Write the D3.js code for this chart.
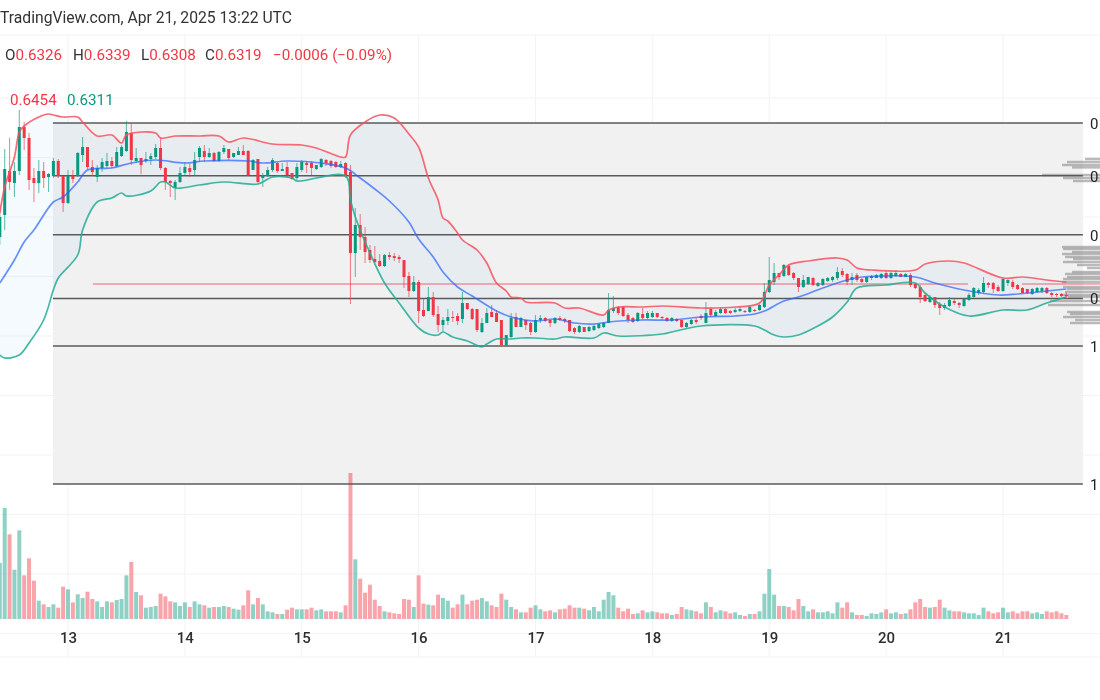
<!DOCTYPE html>
<html>
<head>
<meta charset="utf-8">
<script src="https://cdn.jsdelivr.net/npm/d3@7"></script>
<style>
  html, body { margin: 0; padding: 0; background: #fff; overflow: hidden; }
  svg { display: block; filter: blur(0.6px); }
  text { font-family: Roboto, sans-serif; }
</style>
</head>
<body>
<svg id="chart" width="1100" height="700"></svg>
<script>
// hourly candles, hours counted from Apr 13 00:00, prices in 1/10000
const firstHour = -14;

const opens = [
  6615,6725,6945,6885,6945,7165,7110,6910,6885,6945,
  6915,6920,6995,6920,6785,6920,6920,7025,7065,6965,
  6915,6960,6970,6995,6970,7020,7045,7135,6995,7010,
  6995,7005,7015,7060,6960,6895,6860,6890,6935,6960,
  6950,7015,7045,7015,7035,6995,7040,7055,7015,7025,
  7045,7045,6950,7005,6910,6920,6950,6985,6945,6965,
  6935,6910,6950,6985,6985,6955,6965,7000,6995,6990,
  6965,6985,6940,6535,6675,6615,6550,6505,6495,6470,
  6525,6520,6515,6500,6420,6345,6390,6250,6245,6315,
  6230,6175,6195,6215,6220,6205,6285,6255,6255,6140,
  6185,6240,6235,6200,6075,6115,6215,6165,6200,6185,
  6140,6200,6210,6200,6185,6210,6205,6200,6160,6140,
  6165,6145,6150,6160,6165,6185,6245,6265,6265,6225,
  6210,6195,6230,6210,6215,6235,6215,6210,6195,6205,
  6200,6165,6180,6200,6220,6185,6255,6220,6235,6255,
  6245,6240,6245,6245,6240,6250,6250,6265,6340,6390,
  6435,6420,6470,6435,6410,6365,6380,6410,6370,6375,
  6395,6400,6410,6445,6430,6400,6425,6405,6390,6410,
  6410,6410,6435,6410,6420,6430,6415,6425,6380,6365,
  6325,6290,6315,6280,6260,6270,6295,6285,6270,6300,
  6315,6335,6340,6385,6385,6365,6345,6385,6390,6375,
  6360,6355,6330,6340,6345,6360,6335,6330,6330,6326
];
const highs = [
  6775,7055,7110,6990,7250,7190,7135,6960,7000,6990,
  6935,7010,7005,6920,6950,6950,7040,7115,7065,7000,
  6975,7010,7035,7015,7065,7075,7195,7180,7060,7010,
  7040,7035,7080,7115,6965,6900,6900,6965,6990,6980,
  7040,7070,7075,7060,7040,7045,7075,7055,7035,7065,
  7075,7050,7005,7005,6935,6965,7010,6990,6985,6990,
  6935,6985,7000,6995,6995,6975,7010,7005,7000,6995,
  6995,6990,6975,6760,6730,6665,6575,6570,6530,6530,
  6540,6535,6525,6500,6440,6420,6400,6310,6365,6340,
  6270,6215,6255,6245,6235,6340,6285,6260,6255,6210,
  6260,6275,6250,6200,6125,6235,6235,6215,6200,6190,
  6225,6225,6215,6200,6215,6220,6210,6200,6165,6175,
  6165,6170,6180,6185,6190,6335,6320,6270,6270,6235,
  6215,6240,6260,6245,6245,6235,6220,6215,6215,6210,
  6200,6190,6205,6210,6230,6290,6265,6250,6265,6260,
  6250,6260,6265,6250,6275,6255,6280,6385,6515,6485,
  6435,6480,6480,6440,6410,6425,6415,6415,6390,6410,
  6415,6420,6465,6460,6435,6435,6435,6410,6415,6425,
  6430,6435,6445,6440,6450,6435,6435,6435,6385,6375,
  6335,6325,6315,6290,6285,6315,6305,6290,6310,6335,
  6365,6360,6415,6390,6390,6375,6415,6405,6400,6380,
  6365,6355,6360,6365,6365,6365,6340,6335,6335,6339
];
const lows = [
  6575,6650,6850,6815,6925,7050,6850,6790,6835,6860,
  6840,6910,6910,6740,6780,6885,6915,6990,6950,6920,
  6890,6940,6960,6960,6965,7015,7040,6975,6985,6930,
  6985,6975,7005,6950,6850,6815,6800,6885,6925,6915,
  6925,6990,6990,7010,6990,6990,7030,7000,7010,7025,
  7025,6920,6950,6885,6865,6915,6940,6935,6945,6910,
  6900,6900,6940,6935,6925,6950,6960,6970,6960,6960,
  6960,6910,6280,6415,6550,6485,6485,6485,6465,6465,
  6500,6495,6485,6360,6315,6340,6185,6215,6245,6215,
  6140,6140,6175,6190,6175,6185,6250,6200,6140,6135,
  6185,6215,6190,6070,6070,6110,6165,6165,6150,6125,
  6135,6185,6190,6165,6180,6195,6185,6140,6130,6135,
  6140,6140,6145,6155,6160,6185,6235,6225,6215,6185,
  6185,6190,6200,6205,6210,6210,6200,6190,6190,6190,
  6160,6160,6175,6180,6200,6185,6215,6215,6230,6230,
  6230,6235,6240,6235,6235,6240,6245,6260,6335,6375,
  6400,6415,6420,6400,6340,6360,6375,6370,6365,6370,
  6390,6390,6400,6415,6375,6375,6390,6385,6385,6400,
  6410,6405,6405,6405,6415,6415,6415,6365,6355,6285,
  6290,6285,6260,6225,6250,6265,6275,6260,6265,6295,
  6310,6325,6335,6360,6335,6340,6340,6370,6355,6350,
  6335,6330,6325,6335,6335,6330,6315,6315,6315,6308
];
const closes = [
  6715,6955,6890,6945,7165,7110,6900,6885,6945,6910,
  6930,6995,6920,6785,6920,6905,7035,7065,6965,6940,
  6960,6990,6995,6970,7040,7065,7140,7000,7010,6975,
  7005,7020,7060,6960,6890,6885,6890,6935,6965,6940,
  7000,7060,7015,7035,6995,7040,7060,7010,7035,7045,
  7025,6925,7000,6890,6925,6950,7000,6945,6955,6925,
  6905,6965,6990,6975,6960,6975,7005,6985,6970,6965,
  6980,6925,6535,6675,6615,6540,6500,6490,6470,6525,
  6515,6510,6505,6415,6345,6390,6245,6220,6315,6225,
  6175,6200,6215,6210,6195,6285,6255,6205,6150,6185,
  6235,6215,6190,6075,6125,6210,6165,6210,6175,6140,
  6200,6210,6195,6185,6210,6200,6195,6145,6140,6170,
  6140,6165,6170,6180,6185,6250,6260,6235,6220,6200,
  6190,6235,6210,6235,6235,6215,6210,6195,6210,6195,
  6165,6185,6200,6190,6210,6235,6225,6240,6255,6235,
  6235,6250,6255,6240,6265,6245,6275,6340,6400,6435,
  6415,6475,6425,6410,6365,6400,6415,6375,6385,6405,
  6410,6415,6440,6425,6390,6415,6400,6390,6415,6420,
  6425,6430,6410,6435,6435,6415,6430,6375,6360,6315,
  6295,6315,6275,6260,6275,6300,6285,6275,6305,6325,
  6360,6350,6385,6375,6355,6345,6405,6400,6365,6355,
  6335,6335,6355,6360,6360,6335,6325,6325,6320,6319
];
const volumes = [
  168,333,254,148,266,131,182,115,55,44,
  36,44,34,97,89,50,74,63,82,60,
  53,36,53,50,57,60,131,171,81,71,
  34,36,39,76,68,53,50,39,50,36,
  53,44,41,34,36,36,39,36,31,28,
  41,86,44,63,44,23,20,15,15,28,
  34,29,29,29,34,26,29,23,23,23,
  20,41,438,179,121,79,103,58,39,23,
  20,17,15,60,58,36,131,46,43,41,
  73,63,55,34,44,73,44,55,58,63,
  53,41,36,76,58,36,29,20,20,34,
  41,29,23,26,20,29,31,41,34,34,
  31,26,36,23,58,81,71,34,23,31,
  15,17,26,20,23,20,17,17,12,15,
  36,29,26,23,17,50,36,20,26,23,
  17,20,12,9,15,15,23,76,150,73,
  39,39,36,26,60,39,23,29,20,20,
  23,17,50,34,50,20,12,12,9,17,
  15,20,29,17,20,15,17,29,50,60,
  36,34,36,58,34,26,23,23,20,17,
  17,12,34,23,17,20,34,20,23,17,
  23,23,17,20,15,23,20,23,17,12
];

// bollinger bands, [hour, price]
const upperBand = [[-14,6735],[-13,6865],[-11,7015],[-10,7140],[-9,7170],[-6,7215],[-4,7230],[-3,7225],[-1,7215],[2,7215],[3,7190],[6,7120],[9,7125],[11,7085],[12,7125],[18,7135],[19,7110],[22,7120],[27,7120],[31,7120],[33,7090],[36,7110],[42,7080],[48,7075],[51,7060],[56,7015],[57,7015],[58,7125],[61,7190],[64,7225],[67,7210],[70,7130],[72,7065],[74,6910],[76,6800],[77,6710],[78,6695],[80,6635],[81,6600],[84,6550],[86,6485],[88,6385],[90,6345],[91,6315],[93,6310],[94,6290],[100,6285],[102,6260],[105,6260],[110,6225],[111,6250],[113,6265],[118,6265],[122,6270],[130,6260],[137,6265],[142,6285],[144,6375],[146,6425],[148,6475],[152,6495],[158,6510],[160,6500],[162,6460],[165,6450],[174,6450],[176,6480],[181,6495],[184,6485],[192,6410],[196,6415],[201,6400],[205,6390]];
const basisBand = [[-14,6385],[-11,6500],[-9,6590],[-7,6650],[-3,6790],[-1,6815],[2,6890],[4,6950],[9,6960],[13,6985],[18,7000],[24,6985],[28,6995],[37,6995],[40,6985],[45,6995],[52,6985],[57,6960],[60,6910],[63,6855],[66,6795],[70,6690],[72,6605],[75,6515],[77,6440],[80,6365],[83,6320],[88,6245],[91,6215],[96,6195],[100,6205],[104,6185],[108,6180],[111,6190],[118,6200],[124,6200],[130,6215],[137,6220],[141,6230],[143,6245],[147,6295],[150,6315],[155,6360],[160,6400],[163,6415],[174,6415],[178,6385],[184,6350],[191,6325],[195,6330],[201,6345],[205,6355]];
const lowerBand = [[-14,6025],[-13,6010],[-10,6025],[-8,6085],[-5,6200],[-3,6350],[-2,6410],[2,6525],[3,6650],[6,6790],[9,6810],[11,6835],[12,6820],[17,6845],[19,6890],[20,6890],[22,6860],[27,6875],[32,6890],[39,6880],[42,6915],[46,6910],[47,6895],[57,6920],[58,6800],[59,6715],[62,6535],[65,6385],[68,6285],[72,6160],[74,6130],[76,6125],[77,6140],[79,6115],[82,6095],[85,6065],[86,6080],[88,6105],[91,6105],[93,6110],[96,6110],[100,6105],[102,6115],[108,6110],[110,6135],[113,6120],[122,6130],[124,6140],[130,6170],[141,6170],[143,6150],[145,6125],[147,6115],[150,6125],[154,6170],[157,6215],[160,6290],[162,6360],[168,6375],[174,6385],[176,6335],[180,6265],[185,6220],[192,6250],[197,6250],[201,6285],[205,6315]];

// fib levels, labels as far as the reference shows them
const fibLevels = [7185, 6921, 6626, 6308, 6070, 5380];
const fibLabels = ["0", "0", "0", "0", "1", "1"];
const fibSpan = [-3.1, 208.4];

// volume profile rows, [price, size]
const profileRows = [[7005,15],[6990,33],[6975,38],[6963,28],[6925,58],[6910,37],[6895,27],[6565,38],[6555,37],[6540,28],[6530,38],[6515,35],[6505,27],[6490,37],[6475,23],[6460,13],[6440,28],[6430,35],[6415,33],[6405,37],[6390,38],[6365,37],[6355,33],[6340,35],[6325,40],[6315,32],[6295,50],[6275,52],[6240,33],[6230,30],[6215,37],[6200,25],[6185,30]];

// pink point of control lines, [from hour, to hour, price]
const pocLines = [[5.1, 184.8, 6380], [195.9, 212, 6380]];

const gridPrices = [7310, 7012, 6715, 6418, 6120, 5822, 5525, 5228, 4930, 4632];
const dayTicks = [0, 24, 48, 72, 96, 120, 144, 168, 192];
const dayLabels = ["13", "14", "15", "16", "17", "18", "19", "20", "21"];

const upColor = "#089981", downColor = "#f23645";

const svg = d3.select("#chart");

// scales
const x = d3.scaleLinear().domain([0, 192]).range([68, 1003]);
const y = d3.scaleLinear().domain([7800, 4000]).range([0, 760]);
const vol = d3.scaleLinear().domain([0, 438]).range([619, 473]);
const prof = d3.scaleLinear().domain([0, 100]).range([1100, 1000]);

const candles = opens.map((o, i) => ({
  hour: firstHour + i, open: o, high: highs[i], low: lows[i], close: closes[i],
  volume: volumes[i], color: closes[i] >= o ? upColor : downColor
}));

// grid
const grid = svg.append("g").attr("stroke", "#f3f3f3").attr("stroke-width", 1);
grid.selectAll(".h").data(gridPrices).join("line")
  .attr("x1", 0).attr("x2", 1100)
  .attr("y1", d => y(d)).attr("y2", d => y(d));
grid.selectAll(".v").data(dayTicks).join("line")
  .attr("x1", d => x(d)).attr("x2", d => x(d))
  .attr("y1", 35).attr("y2", 657);
grid.append("line").attr("x1", 0).attr("x2", 1100).attr("y1", 35).attr("y2", 35);
grid.append("line").attr("x1", 0).attr("x2", 1100).attr("y1", 657).attr("y2", 657);

// fib background
svg.append("rect")
  .attr("x", x(fibSpan[0]))
  .attr("y", y(fibLevels[0]))
  .attr("width", x(fibSpan[1]) - x(fibSpan[0]))
  .attr("height", y(fibLevels[5]) - y(fibLevels[0]))
  .attr("fill", "#f1f1f1");

// volume
svg.append("g").selectAll("rect").data(candles).join("rect")
  .attr("x", d => x(d.hour) - 2)
  .attr("y", d => vol(d.volume))
  .attr("width", 4)
  .attr("height", d => vol(0) - vol(d.volume))
  .attr("fill", d => d.color)
  .attr("opacity", 0.45);

// band fill
const bandPath = d3.line().x(d => x(d[0])).y(d => y(d[1])).curve(d3.curveCatmullRom.alpha(0.5));
const bandFill = bandPath(upperBand) + "L" + bandPath(lowerBand.slice().reverse()).slice(1) + "Z";
svg.append("path")
  .attr("d", bandFill)
  .attr("fill", "#2196f3")
  .attr("opacity", 0.05);

// volume profile
svg.append("g").selectAll("rect").data(profileRows).join("rect")
  .attr("x", d => prof(d[1]))
  .attr("y", d => y(d[0]) - 1.25)
  .attr("width", d => 1100 - prof(d[1]))
  .attr("height", 2.5)
  .attr("fill", "#8c8c8c")
  .attr("opacity", 0.6);

// fib lines and labels
svg.append("g").selectAll("line").data(fibLevels).join("line")
  .attr("x1", x(fibSpan[0])).attr("x2", x(fibSpan[1]))
  .attr("y1", d => y(d)).attr("y2", d => y(d))
  .attr("stroke", "#5a5a5a")
  .attr("stroke-width", 1.5);
svg.append("g").selectAll("text").data(fibLevels).join("text")
  .attr("x", 1090).attr("y", d => y(d) + 6)
  .attr("font-size", 15)
  .attr("fill", "#222")
  .text((d, i) => fibLabels[i]);

// poc lines
svg.append("g").selectAll("line").data(pocLines).join("line")
  .attr("x1", d => x(d[0])).attr("x2", d => x(d[1]))
  .attr("y1", d => y(d[2])).attr("y2", d => y(d[2]))
  .attr("stroke", downColor)
  .attr("stroke-width", 1.5)
  .attr("opacity", 0.5);

// candles
const candle = svg.append("g").selectAll("g").data(candles).join("g");
candle.append("line")
  .attr("x1", d => x(d.hour)).attr("x2", d => x(d.hour))
  .attr("y1", d => y(d.high)).attr("y2", d => y(d.low))
  .attr("stroke", d => d.color)
  .attr("stroke-width", 1.1)
  .attr("opacity", 0.6);
candle.append("rect")
  .attr("x", d => x(d.hour) - 1.5)
  .attr("y", d => y(Math.max(d.open, d.close)))
  .attr("width", 3)
  .attr("height", d => Math.max(1, Math.abs(y(d.open) - y(d.close))))
  .attr("fill", d => d.color);

// band lines
const bandLines = [[upperBand, "#f7525f", 0.85], [lowerBand, "#22ab94", 0.85], [basisBand, "#2962ff", 0.7]];
bandLines.forEach(([pts, color, alpha]) => {
  svg.append("path")
    .attr("d", bandPath(pts))
    .attr("fill", "none")
    .attr("stroke", color)
    .attr("stroke-width", 1.7)
    .attr("opacity", alpha);
});

// x axis
const xAxis = svg.append("g")
  .attr("transform", "translate(0,629)")
  .call(d3.axisBottom(x).tickValues(dayTicks).tickFormat((d, i) => dayLabels[i]).tickSize(0));
xAxis.select("path").remove();
xAxis.selectAll("text")
  .attr("fill", "#2e2e2e")
  .attr("font-family", "Roboto, sans-serif")
  .attr("font-size", 15)
  .attr("font-weight", 500);

// header texts
svg.append("text").attr("x", 0).attr("y", 23)
  .attr("font-size", 15.7).attr("fill", "#333")
  .text("TradingView.com, Apr 21, 2025 13:22 UTC");

const ohlc = [["O", "0.6326", 5], ["H", "0.6339", 73], ["L", "0.6308", 141], ["C", "0.6319", 205]];
ohlc.forEach(([k, v, px]) => {
  const t = svg.append("text").attr("x", px).attr("y", 60).attr("font-size", 15.2);
  t.append("tspan").attr("fill", "#333").text(k);
  t.append("tspan").attr("fill", downColor).text(v);
});
svg.append("text").attr("x", 273).attr("y", 60)
  .attr("font-size", 15.2).attr("fill", downColor)
  .text("\u22120.0006 (\u22120.09%)");

svg.append("text").attr("x", 10).attr("y", 105)
  .attr("font-size", 15.2).attr("fill", downColor).text("0.6454");
svg.append("text").attr("x", 67).attr("y", 105)
  .attr("font-size", 15.2).attr("fill", upColor).text("0.6311");
</script>
</body>
</html>
